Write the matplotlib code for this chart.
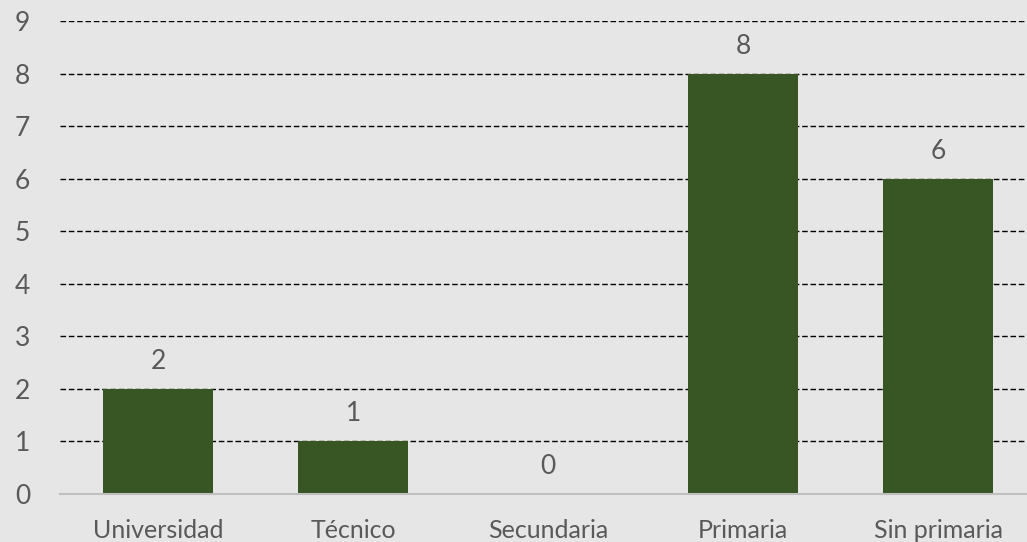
import matplotlib
matplotlib.use("Agg")
import matplotlib.pyplot as plt

categories = ["Universidad", "Técnico", "Secundaria", "Primaria", "Sin primaria"]
values = [2, 1, 0, 8, 6]
yticks = list(range(0, 10))

bg = "#E7E6E6"
bar_color = "#375623"
text_color = "#595959"

plt.rcParams["font.family"] = ["Lato", "DejaVu Sans"]

fig = plt.figure(figsize=(10.27, 5.42), dpi=100, facecolor=bg)
ax = fig.add_axes([0.0584, 0.0886, 0.9416, 0.8725], facecolor=bg)

x = list(range(len(categories)))
ax.bar(x, values, width=0.564, color=bar_color, zorder=3)

for xi, v in zip(x, values):
    ax.text(xi, v + 0.38, str(v), ha="center", va="baseline",
            fontsize=19, color=text_color)

ax.set_xlim(-0.503, 4.456)
ax.set_ylim(0, 9)
ax.set_yticks(yticks)
ax.set_yticklabels([str(t) for t in yticks])
ax.set_xticks(x)
ax.set_xticklabels(categories)

for t in yticks[1:]:
    ax.axhline(t, color="black", lw=1.0, ls=(0, (4, 2)), zorder=1)

for s in ["top", "right", "left"]:
    ax.spines[s].set_visible(False)
ax.spines["bottom"].set_color("#BFBFBF")
ax.spines["bottom"].set_linewidth(1.5)
ax.spines["bottom"].set_zorder(4)

ax.tick_params(axis="both", length=0, colors=text_color)
ax.tick_params(axis="y", pad=32.4, labelsize=19)
ax.tick_params(axis="x", pad=18, labelsize=18)
for lbl in ax.get_yticklabels():
    lbl.set_horizontalalignment("left")

fig.savefig("out.png", dpi=100, facecolor=bg)
